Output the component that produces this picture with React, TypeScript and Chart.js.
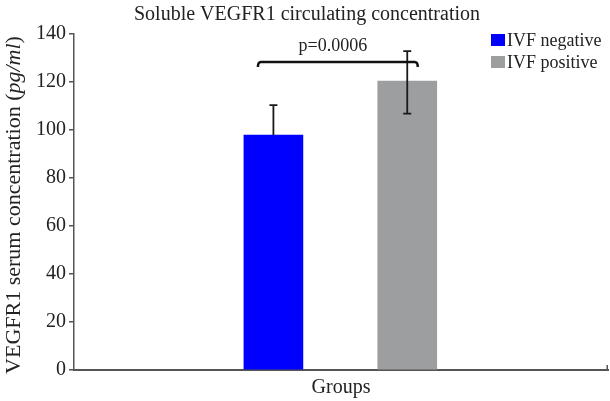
import React, { useEffect, useRef } from "react";
import { Chart, registerables } from "chart.js";

Chart.register(...registerables);

const groups = ["IVF negative", "IVF positive"];
const means = [97.9, 120.4];
const errUpper = [12.5, 12.5];
const errLower = [0, 13.6];
const barColors = ["#0000ff", "#9d9ea0"];
const yTicks = [0, 20, 40, 60, 80, 100, 120, 140];
const pValueText = "p=0.0006";
const bracketValue = 128.3;
const chartTitle = "Soluble VEGFR1 circulating concentration";
const xTitle = "Groups";
const yTitleParts = [
  { text: "VEGFR1 serum concentration (", italic: false },
  { text: "pg/ml", italic: true },
  { text: ")", italic: false },
];

const SERIF = '"Liberation Serif", "Times New Roman", serif';

const overlayPlugin = {
  id: "overlay",
  afterDatasetsDraw(chart: any) {
    const ctx = chart.ctx;
    const y = chart.scales.y;
    const area = chart.chartArea;
    ctx.save();

    // error bars
    ctx.strokeStyle = "#1a1a1a";
    ctx.lineWidth = 1.8;
    groups.forEach((_, i) => {
      const bar = chart.getDatasetMeta(i).data[0];
      const cx = bar.x;
      const top = y.getPixelForValue(means[i] + errUpper[i]);
      const bot = y.getPixelForValue(means[i] - errLower[i]);
      ctx.beginPath();
      ctx.moveTo(cx, top);
      ctx.lineTo(cx, bot);
      ctx.moveTo(cx - 4, top);
      ctx.lineTo(cx + 4, top);
      if (errLower[i] > 0) {
        ctx.moveTo(cx - 4, bot);
        ctx.lineTo(cx + 4, bot);
      }
      ctx.stroke();
    });

    // significance bracket
    const b0 = chart.getDatasetMeta(0).data[0];
    const b1 = chart.getDatasetMeta(1).data[0];
    const L = b0.x - 15.5;
    const R = b1.x + 10.5;
    const by = y.getPixelForValue(bracketValue);
    ctx.strokeStyle = "#111";
    ctx.lineWidth = 2.5;
    ctx.beginPath();
    ctx.moveTo(L, by + 5);
    ctx.quadraticCurveTo(L, by, L + 3, by);
    ctx.lineTo(R - 3, by);
    ctx.quadraticCurveTo(R, by, R, by + 5);
    ctx.stroke();

    ctx.fillStyle = "#222";
    ctx.font = `18px ${SERIF}`;
    ctx.textAlign = "center";
    ctx.textBaseline = "alphabetic";
    ctx.fillText(pValueText, (L + R) / 2 - 5, by - 11);

    // right end tick of x axis
    ctx.strokeStyle = "#555";
    ctx.lineWidth = 1.5;
    ctx.beginPath();
    ctx.moveTo(area.right - 0.75, area.bottom);
    ctx.lineTo(area.right - 0.75, area.bottom - 5);
    ctx.stroke();

    ctx.restore();
  },
  afterDraw(chart: any) {
    const ctx = chart.ctx;
    const area = chart.chartArea;
    ctx.save();
    ctx.fillStyle = "#222";

    // title
    ctx.font = `20px ${SERIF}`;
    ctx.textAlign = "center";
    ctx.textBaseline = "alphabetic";
    ctx.fillText(chartTitle, chart.width / 2 + 2, 20);

    // x title
    ctx.font = `20px ${SERIF}`;
    ctx.fillText(xTitle, (area.left + area.right) / 2, 393);

    // y title (mixed italic)
    const size = 22;
    const fonts = yTitleParts.map((p) => `${p.italic ? "italic " : ""}${size}px ${SERIF}`);
    const widths = yTitleParts.map((p, i) => {
      ctx.font = fonts[i];
      return ctx.measureText(p.text).width;
    });
    const total = widths.reduce((a, b) => a + b, 0);
    ctx.translate(20, (area.top + area.bottom) / 2 + 3);
    ctx.rotate(-Math.PI / 2);
    ctx.textAlign = "left";
    let x = -total / 2;
    yTitleParts.forEach((p, i) => {
      ctx.font = fonts[i];
      ctx.fillText(p.text, x, 0);
      x += widths[i];
    });
    ctx.setTransform(1, 0, 0, 1, 0, 0);

    // legend
    ctx.font = `18px ${SERIF}`;
    ctx.textAlign = "left";
    ctx.textBaseline = "middle";
    groups.forEach((g, i) => {
      const cy = 40 + i * 22;
      ctx.fillStyle = barColors[i];
      ctx.fillRect(491, cy - 6, 14, 12);
      ctx.fillStyle = "#222";
      ctx.fillText(g, 507, cy + 1);
    });

    ctx.restore();
  },
};

export default function App() {
  const ref = useRef<HTMLCanvasElement | null>(null);

  useEffect(() => {
    document.body.style.margin = "0";
    if (!ref.current) return;
    const chart = new Chart(ref.current, {
      type: "bar",
      data: {
        datasets: groups.map((g, i) => ({
          label: g,
          data: [{ x: i, y: means[i] }],
          backgroundColor: barColors[i],
          barThickness: 59,
          grouped: false,
        })),
      } as any,
      options: {
        animation: false,
        responsive: false,
        layout: { padding: { top: 34, right: 2, left: 0, bottom: 0 } },
        plugins: {
          legend: { display: false },
          tooltip: { enabled: false },
          title: { display: false },
        },
        scales: {
          x: {
            type: "linear",
            min: -1.49,
            max: 2.5,
            offset: false,
            grid: { display: false, drawTicks: false },
            ticks: { display: false },
            border: { color: "#555", width: 2 },
            afterFit: (s: any) => {
              s.height = 31;
            },
          },
          y: {
            min: 0,
            max: 140,
            afterBuildTicks: (s: any) => {
              s.ticks = yTicks.map((v) => ({ value: v }));
            },
            ticks: {
              font: { family: SERIF, size: 20 },
              color: "#222",
              padding: 3,
            },
            grid: {
              drawOnChartArea: false,
              drawTicks: true,
              tickLength: 5,
              color: "#555",
              lineWidth: 1.5,
            },
            border: { color: "#555", width: 1.5 },
            afterFit: (s: any) => {
              s.width = 74;
            },
          },
        } as any,
      },
      plugins: [overlayPlugin],
    });
    return () => chart.destroy();
  }, []);

  return (
    <div style={{ width: 610, height: 401 }}>
      <canvas ref={ref} width={610} height={401} style={{ display: "block" }} />
    </div>
  );
}
